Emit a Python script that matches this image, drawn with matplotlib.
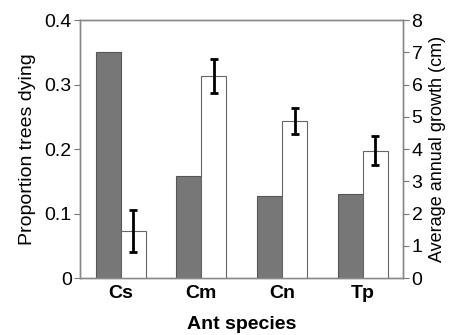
import matplotlib
matplotlib.use("Agg")
import matplotlib.pyplot as plt
import numpy as np

plt.rcParams['font.family'] = ['Liberation Sans', 'DejaVu Sans']

# data
species = ["Cs", "Cm", "Cn", "Tp"]
prop_dying = [0.350, 0.158, 0.127, 0.130]
growth = [1.46, 6.27, 4.86, 3.95]
growth_err = [0.64, 0.52, 0.40, 0.44]

x = np.arange(len(species))
w = 0.31

fig = plt.figure(figsize=(4.53, 3.35), dpi=100)
ax = fig.add_axes([0.177, 0.170, 0.713, 0.770])
ax2 = ax.twinx()

ax.bar(x - w / 2, prop_dying, width=w, color="#777777", edgecolor="#555555", linewidth=0.8, zorder=2)
ax2.bar(x + w / 2, growth, width=w, color="white", edgecolor="#666666", linewidth=0.8, zorder=2)
ax2.errorbar(x + w / 2, growth, yerr=growth_err, fmt="none", ecolor="black",
             elinewidth=2, capsize=3, capthick=2, zorder=3)

ax.set_xlim(-0.5, 3.5)
ax.set_ylim(0, 0.4)
ax2.set_ylim(0, 8)
ax.set_yticks([0, 0.1, 0.2, 0.3, 0.4])
ax.set_yticklabels(["0", "0.1", "0.2", "0.3", "0.4"])
ax2.set_yticks(range(0, 9))

ax.set_xticks(x)
ax.set_xticklabels(species, fontweight="bold", fontsize=14)
ax.tick_params(axis="x", length=0, pad=5)
ax.tick_params(axis="y", labelsize=14, length=4, color="#777777", direction="out", pad=2)
ax2.tick_params(axis="y", labelsize=14, length=4, color="#777777", direction="out", pad=2)

for a in (ax, ax2):
    for s in a.spines.values():
        s.set_color("#888888")
        s.set_linewidth(1.0)

ax.set_ylabel("Proportion trees dying", fontsize=14, labelpad=6)
ax2.set_ylabel("Average annual growth (cm)", fontsize=13, labelpad=5)
ax.set_xlabel("Ant species", fontsize=14, fontweight="bold", labelpad=10)

fig.savefig("out.png", dpi=100)
